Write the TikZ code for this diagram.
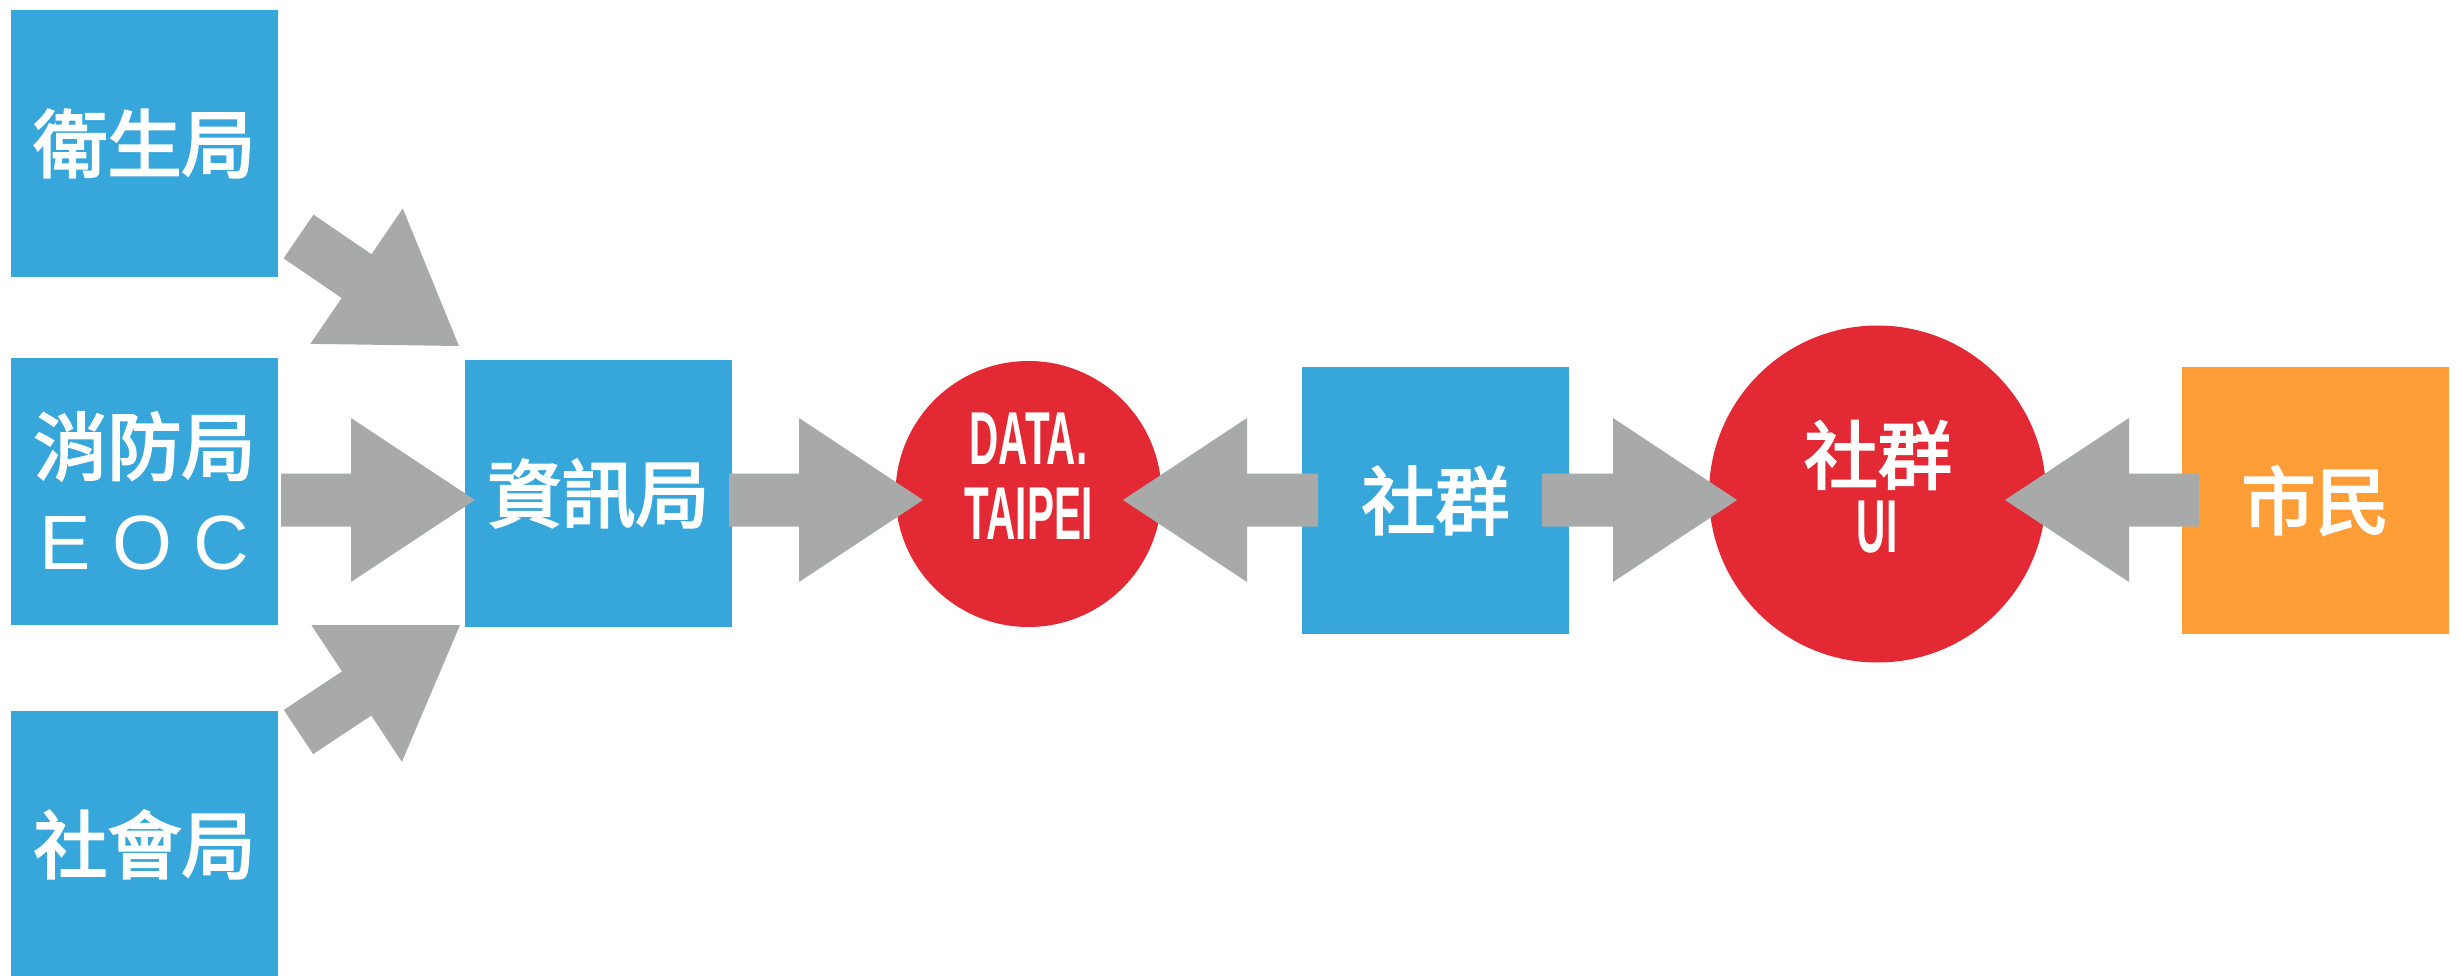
\documentclass[tikz,border=0pt]{standalone}
\usepackage{fontspec}
\setmainfont{Liberation Sans}
\newfontfamily\cjkfont[FakeBold=3]{Noto Sans CJK TC}
\newfontfamily\latinfont{Liberation Sans}
\newfontfamily\condfont[FakeStretch=0.54]{Liberation Sans}
\usetikzlibrary{calc}
\definecolor{cblue}{RGB}{54,166,219}
\definecolor{cred}{RGB}{227,41,51}
\definecolor{corange}{RGB}{255,158,54}
\definecolor{cgray}{RGB}{167,170,169}
% block arrow: #1 name, #2 tail coordinate, #3 tip coordinate
\newcommand\blockarr[3]{%
  \coordinate (#1h) at ($(#3)!124pt!(#2)$);
  \fill[cgray] ($(#2)!26.5pt!90:(#3)$) -- ($(#1h)!26.5pt!90:(#3)$) -- ($(#1h)!82pt!90:(#3)$)
    -- (#3) -- ($(#1h)!82pt!-90:(#3)$) -- ($(#1h)!26.5pt!-90:(#3)$) -- ($(#2)!26.5pt!-90:(#3)$) -- cycle;
}
\begin{document}
\begin{tikzpicture}[x=1pt,y=-1pt,
  boxbase/.style={rectangle, minimum width=267pt, minimum height=267pt, inner sep=0pt, text=white,
    font=\cjkfont\fontsize{74}{95}\selectfont},
  bluebox/.style={boxbase, fill=cblue},
  orangebox/.style={boxbase, fill=corange},
  redcirc/.style={circle, fill=cred, inner sep=0pt},
  condtext/.style={text=white, inner sep=0pt, align=center, font=\condfont\bfseries\fontsize{75}{75}\selectfont},
  cjktext/.style={text=white, inner sep=0pt, font=\cjkfont\fontsize{74}{74}\selectfont}]
\useasboundingbox (0,0) rectangle (2460,976);
\clip (0,0) rectangle (2460,976);

% nodes
\node[bluebox] (health) at (144.5,143.5) {衛生局};
\node[bluebox, align=center] (fire) at (144.5,491) {消防局\\{\latinfont\fontsize{77}{95}\selectfont E O C}};
\node[bluebox] (social) at (144.5,844.5) {社會局};
\node[bluebox] (info) at (598.5,493.5) {資訊局};
\node[redcirc, minimum size=266pt] (data) at (1028.5,494) {};
\node[condtext] (datatxt) at (1028.5,476.5) {DATA.\\TAIPEI};
\node[bluebox] (community) at (1435.5,500.5) {社群};
\node[redcirc, minimum size=337pt] (ui) at (1877.5,494) {};
\node[cjktext] (uitxt1) at (1878,455) {社群};
\node[condtext] (uitxt2) at (1877,527) {UI};
\node[orangebox] (citizen) at (2315.5,500.5) {市民};

% connector end points
\coordinate (a1s) at (298.5,236.5); \coordinate (a1e) at (459,346);
\coordinate (a2s) at (281,500);     \coordinate (a2e) at (475,500);
\coordinate (a3s) at (298.5,732);   \coordinate (a3e) at (460,625);
\coordinate (a4s) at (729,500);     \coordinate (a4e) at (923,500);
\coordinate (a5s) at (1318,500);    \coordinate (a5e) at (1123,500);
\coordinate (a6s) at (1542,500);    \coordinate (a6e) at (1737,500);
\coordinate (a7s) at (2199,500);    \coordinate (a7e) at (2005,500);

\blockarr{a1}{a1s}{a1e}
\blockarr{a2}{a2s}{a2e}
\blockarr{a3}{a3s}{a3e}
\blockarr{a4}{a4s}{a4e}
\blockarr{a5}{a5s}{a5e}
\blockarr{a6}{a6s}{a6e}
\blockarr{a7}{a7s}{a7e}
\end{tikzpicture}
\end{document}
